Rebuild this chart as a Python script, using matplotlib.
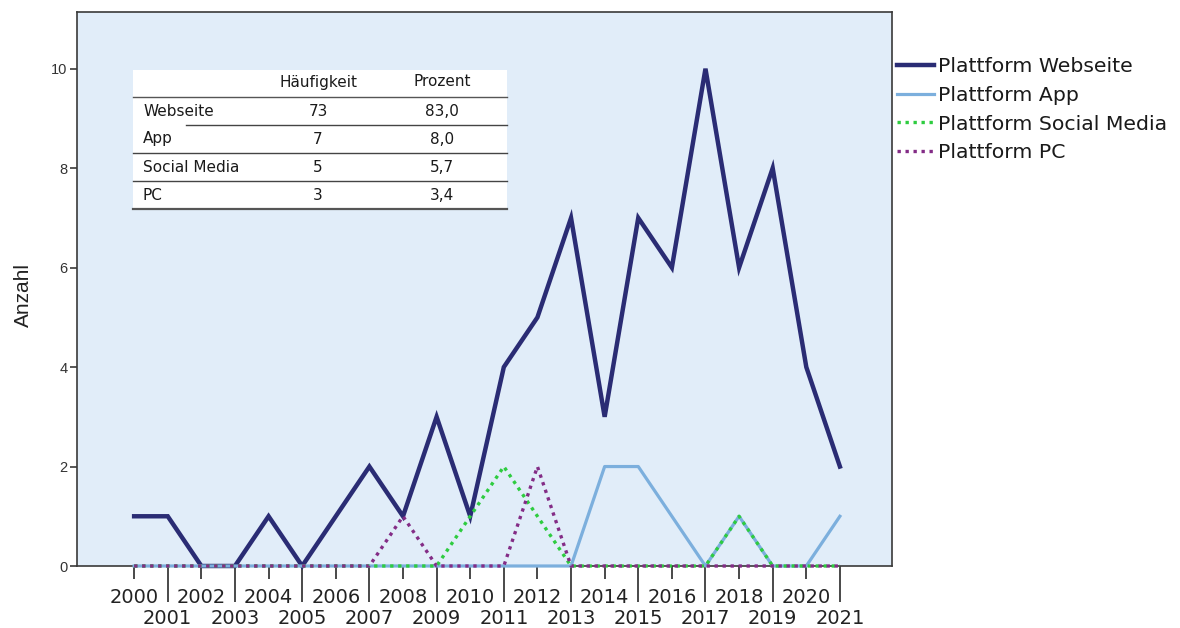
import matplotlib
matplotlib.use("Agg")
import matplotlib.pyplot as plt
from matplotlib.ticker import FixedLocator, FixedFormatter
from matplotlib.patches import Rectangle
from matplotlib.lines import Line2D

# ---- data ----
years = list(range(2000, 2022))
webseite = [1, 1, 0, 0, 1, 0, 1, 2, 1, 3, 1, 4, 5, 7, 3, 7, 6, 10, 6, 8, 4, 2]
app = [0, 0, 0, 0, 0, 0, 0, 0, 0, 0, 0, 0, 0, 0, 2, 2, 1, 0, 1, 0, 0, 1]
social_media = [0, 0, 0, 0, 0, 0, 0, 0, 0, 0, 1, 2, 1, 0, 0, 0, 0, 0, 1, 0, 0, 0]
pc = [0, 0, 0, 0, 0, 0, 0, 0, 1, 0, 0, 0, 2, 0, 0, 0, 0, 0, 0, 0, 0, 0]
series_labels = ["Plattform Webseite", "Plattform App", "Plattform Social Media", "Plattform PC"]
y_ticks = [0, 2, 4, 6, 8, 10]

table_header = ["Häufigkeit", "Prozent"]
table_rows = ["Webseite", "App", "Social Media", "PC"]
table_counts = ["73", "7", "5", "3"]
table_percent = ["83,0", "8,0", "5,7", "3,4"]

# ---- figure ----
W, H = 1180, 628
fig = plt.figure(figsize=(W / 100, H / 100), dpi=100)
ax_l, ax_r, ax_t, ax_b = 77, 892, 12, 566
ax = fig.add_axes([ax_l / W, 1 - ax_b / H, (ax_r - ax_l) / W, (ax_b - ax_t) / H])
ax.set_facecolor("#E1EDF9")

navy = "#2A2C74"
lightblue = "#7CAFDD"
green = "#2ECC40"
purple = "#832C86"

ax.plot(years, webseite, color=navy, lw=3.2, solid_joinstyle="miter", label=series_labels[0], zorder=3,
        clip_on=False)
ax.plot(years, app, color=lightblue, lw=2.3, label=series_labels[1], zorder=4, clip_on=False)
ax.plot(years, social_media, color=green, lw=2.4, linestyle=(0, (1, 1.4)), label=series_labels[2], zorder=5,
        clip_on=False)
ax.plot(years, pc, color=purple, lw=2.4, linestyle=(0, (1, 1.4)), label=series_labels[3], zorder=6,
        clip_on=False)

ax.set_xlim(1998.3, 2022.55)
ax.set_ylim(0, 11.14)

for s in ax.spines.values():
    s.set_color("#3A3A3A")
    s.set_linewidth(1.2)

# x ticks: even years upper row, odd years lower row
even = [y for y in years if y % 2 == 0]
odd = [y for y in years if y % 2 == 1]
ax.xaxis.set_major_locator(FixedLocator(even))
ax.xaxis.set_major_formatter(FixedFormatter([str(y) for y in even]))
ax.xaxis.set_minor_locator(FixedLocator(odd))
ax.xaxis.set_minor_formatter(FixedFormatter([str(y) for y in odd]))
ax.tick_params(axis="x", which="major", length=9.5, width=1.3, color="#3A3A3A", pad=6,
               labelsize=14, labelcolor="#222222")
ax.tick_params(axis="x", which="minor", length=26, width=1.3, color="#3A3A3A", pad=5,
               labelsize=14, labelcolor="#222222")
for lab in ax.get_xticklabels(which="both"):
    lab.set_fontfamily("DejaVu Sans")

ax.set_yticks(y_ticks)
ax.set_yticklabels([str(v) for v in y_ticks], fontfamily="Liberation Sans")
ax.tick_params(axis="y", length=5, width=1.2, color="#3A3A3A", pad=2, labelsize=10.5, labelcolor="#333333")
ax.set_ylabel("Anzahl", fontfamily="Liberation Sans", fontsize=15, color="#222222")

def fx(px):
    return (px - ax_l) / (ax_r - ax_l)

def fy(py):
    return (ax_b - py) / (ax_b - ax_t)

ax.yaxis.set_label_coords(fx(33), fy(295))

# ---- table (axes fraction coords from pixel positions) ----
tl, tr, ttop, tbot = 133, 507, 70, 209
ax.add_patch(Rectangle((fx(tl), fy(tbot)), fx(tr) - fx(tl), fy(ttop) - fy(tbot),
                       transform=ax.transAxes, facecolor="white", edgecolor="none", zorder=7))
row_edges = [97, 125, 153, 181, 209]
line_starts = [133, 186, 133, 133, 133]
for i, (py, sx) in enumerate(zip(row_edges, line_starts)):
    col = "#555555" if i in (0, len(row_edges) - 1) else "#444444"
    lw = 1.6 if i == len(row_edges) - 1 else 1.0
    ax.add_line(Line2D([fx(sx), fx(tr)], [fy(py), fy(py)], transform=ax.transAxes,
                       color=col, lw=lw, zorder=8))
col_c1, col_c2, lab_x = 318, 442, 143
tkw = dict(transform=ax.transAxes, fontsize=11, fontfamily="DejaVu Sans", color="#1A1A1A",
           va="center", zorder=9)
ax.text(fx(col_c1), fy(82), table_header[0], ha="center", **tkw)
ax.text(fx(col_c2), fy(82), table_header[1], ha="center", **tkw)
row_centers = [111, 139, 167, 195]
for py, name, c, p in zip(row_centers, table_rows, table_counts, table_percent):
    ax.text(fx(lab_x), fy(py), name, ha="left", **tkw)
    ax.text(fx(col_c1), fy(py), c, ha="center", **tkw)
    ax.text(fx(col_c2), fy(py), p, ha="center", **tkw)

# ---- legend ----
leg = ax.legend(loc="upper left", bbox_to_anchor=(897 / W, 1 - 57 / H), bbox_transform=fig.transFigure,
                frameon=False, handlelength=1.8, handletextpad=0.2, labelspacing=0.48,
                borderpad=0, borderaxespad=0, prop={"family": "DejaVu Sans", "size": 14.7})
for t in leg.get_texts():
    t.set_color("#1A1A1A")

fig.savefig("out.png", dpi=100, facecolor="white")
